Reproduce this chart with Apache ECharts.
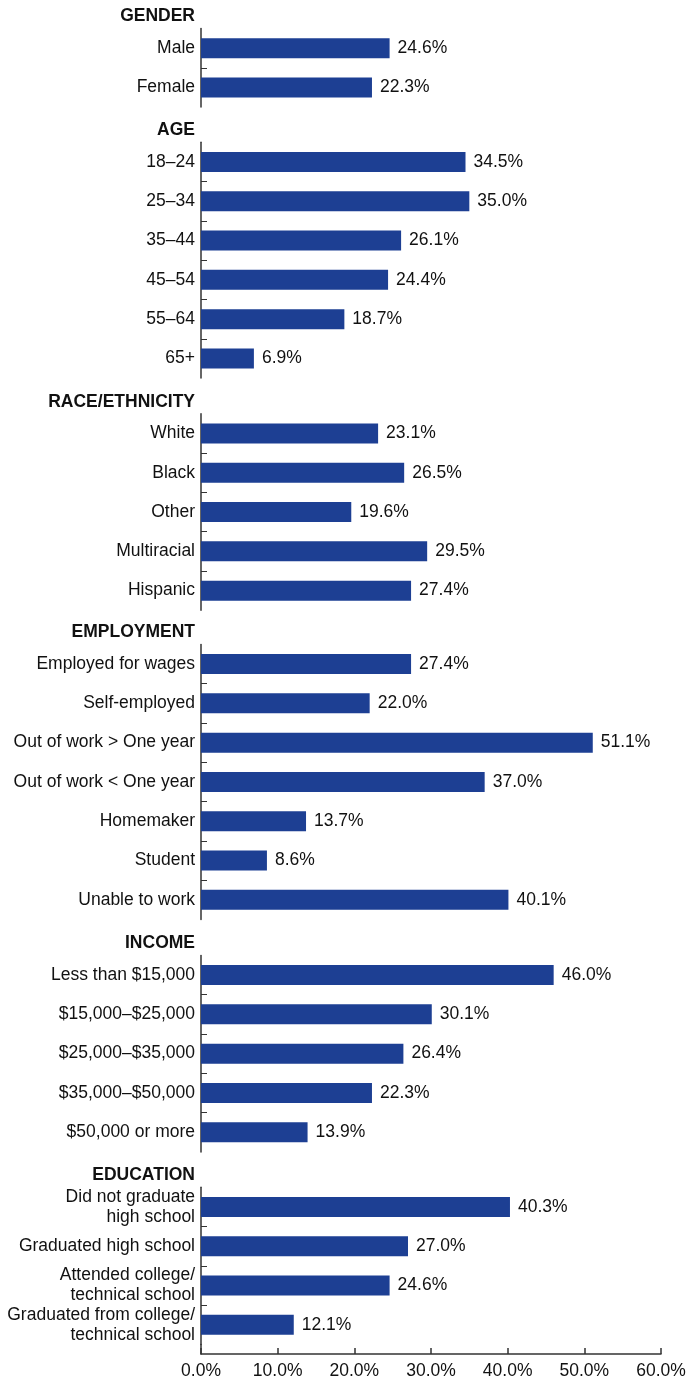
<!DOCTYPE html>
<html>
<head>
<meta charset="utf-8">
<script src="https://cdn.jsdelivr.net/npm/echarts@6/dist/echarts.min.js"></script>
<style>
  html, body { margin: 0; padding: 0; background: #fff; }
  #chart { width: 691px; height: 1380px; }
</style>
</head>
<body>
<div id="chart"></div>
<script>
// group headers
var groupNames = ['GENDER', 'AGE', 'RACE/ETHNICITY', 'EMPLOYMENT', 'INCOME', 'EDUCATION'];

// categories and values
var genderCats = ['Male', 'Female'];
var genderVals = [24.6, 22.3];

var ageCats = ['18–24', '25–34', '35–44', '45–54', '55–64', '65+'];
var ageVals = [34.5, 35.0, 26.1, 24.4, 18.7, 6.9];

var raceCats = ['White', 'Black', 'Other', 'Multiracial', 'Hispanic'];
var raceVals = [23.1, 26.5, 19.6, 29.5, 27.4];

var empCats = ['Employed for wages', 'Self-employed', 'Out of work > One year', 'Out of work < One year', 'Homemaker', 'Student', 'Unable to work'];
var empVals = [27.4, 22.0, 51.1, 37.0, 13.7, 8.6, 40.1];

var incomeCats = ['Less than $15,000', '$15,000–$25,000', '$25,000–$35,000', '$35,000–$50,000', '$50,000 or more'];
var incomeVals = [46.0, 30.1, 26.4, 22.3, 13.9];

var eduCats = ['Did not graduate\nhigh school', 'Graduated high school', 'Attended college/\ntechnical school', 'Graduated from college/\ntechnical school'];
var eduVals = [40.3, 27.0, 24.6, 12.1];

var xTicks = [0, 10, 20, 30, 40, 50, 60];

var groups = [
  [genderCats, genderVals],
  [ageCats, ageVals],
  [raceCats, raceVals],
  [empCats, empVals],
  [incomeCats, incomeVals],
  [eduCats, eduVals]
];

// layout (pixels)
var font = "'Liberation Sans', Arial, Helvetica, sans-serif";
var fs = 17.5;
var textColor = '#111';
var barColor = '#1d3f93';
var lineColor = '#333';
var band = 39.3;
var gridTops = [28.5, 142.3, 413.8, 644.4, 955.4, 1187.3];
var axisBottom = 1356;

var option = {
  animation: false,
  backgroundColor: '#fff',
  title: [],
  grid: [],
  xAxis: [],
  yAxis: [],
  series: []
};

groups.forEach(function (g, i) {
  var cats = g[0], vals = g[1];
  var h = cats.length * band;
  option.grid.push({ left: 201, right: 30, top: gridTops[i], height: h });

  option.title.push({
    text: groupNames[i],
    right: 691 - 195,
    top: gridTops[i] - 22,
    padding: 0,
    textStyle: { fontFamily: font, fontSize: fs, fontWeight: 'bold', color: textColor, lineHeight: 20 }
  });

  option.xAxis.push({ gridIndex: i, type: 'value', min: 0, max: 60, show: false });

  // category axis: labels + axis line
  option.yAxis.push({
    gridIndex: i,
    type: 'category',
    position: 'left',
    inverse: true,
    data: cats,
    axisLine: { show: true, lineStyle: { color: lineColor, width: 1.5 } },
    axisTick: { show: false },
    axisLabel: { interval: 0, margin: 6, fontFamily: font, fontSize: fs, color: textColor, lineHeight: 20, align: 'right' }
  });
  // value axis only for the small ticks between categories
  var inner = [];
  for (var k = 1; k < cats.length; k++) inner.push(k);
  option.yAxis.push({
    gridIndex: i,
    type: 'value',
    position: 'left',
    offset: 0,
    inverse: true,
    min: 0,
    max: cats.length,
    axisLine: { show: false },
    splitLine: { show: false },
    axisLabel: { show: false },
    axisTick: { show: true, inside: true, length: 6, customValues: inner, lineStyle: { color: lineColor, width: 1 } }
  });

  option.series.push({
    type: 'bar',
    xAxisIndex: i,
    yAxisIndex: i * 2,
    data: vals,
    barWidth: 20,
    itemStyle: { color: barColor },
    label: {
      show: true,
      position: 'right',
      distance: 8,
      fontFamily: font,
      fontSize: fs,
      color: textColor,
      formatter: function (p) { return p.value.toFixed(1) + '%'; }
    }
  });
});

// bottom strip: continues the last axis line and carries the x axis
var last = groups.length;
var eduBottom = gridTops[last - 1] + eduCats.length * band;
option.grid.push({ left: 201, right: 30, top: eduBottom, height: axisBottom - eduBottom });
option.xAxis.push({
  gridIndex: last,
  type: 'value',
  min: 0,
  max: 60,
  interval: 10,
  axisLine: { show: true, lineStyle: { color: lineColor, width: 1.5 } },
  axisTick: { show: true, inside: true, length: 6, customValues: xTicks, lineStyle: { color: lineColor, width: 1.5 } },
  splitLine: { show: false },
  axisLabel: {
    margin: 8,
    fontFamily: font,
    fontSize: fs,
    color: textColor,
    formatter: function (v) { return v.toFixed(1) + '%'; }
  }
});
option.yAxis.push({
  gridIndex: last,
  type: 'category',
  data: [''],
  axisLine: { show: true, lineStyle: { color: lineColor, width: 1.5 } },
  axisTick: { show: false },
  axisLabel: { show: false }
});

var chart = echarts.init(document.getElementById('chart'));
chart.setOption(option);
</script>
</body>
</html>
